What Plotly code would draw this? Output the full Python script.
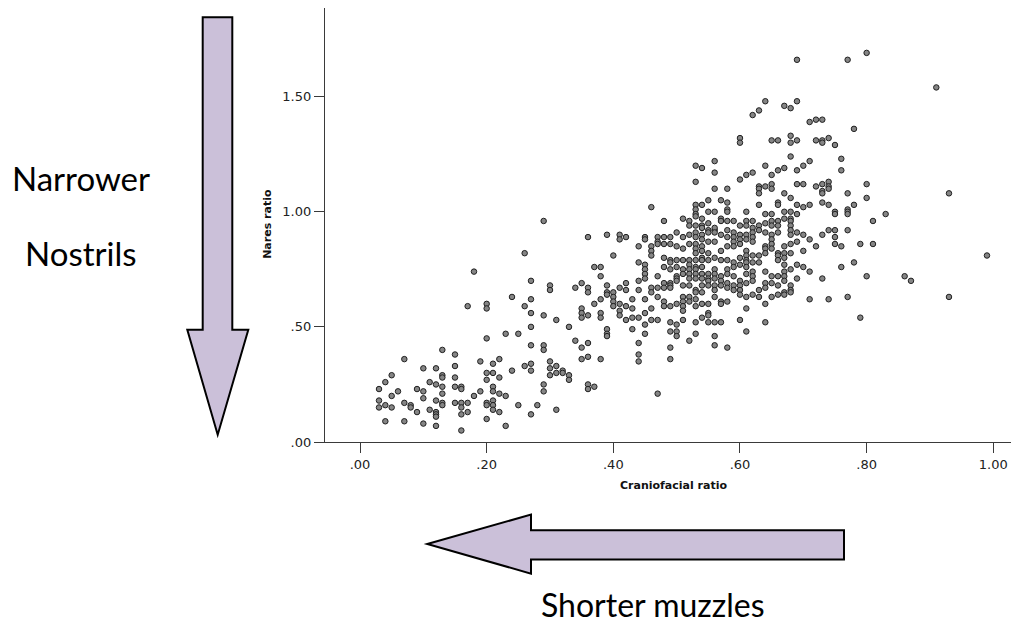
import plotly.graph_objects as go

# ---- data: (craniofacial ratio, nares ratio) ----
low_group = [
    (0.26,0.82),(0.18,0.74),(0.27,0.70),(0.30,0.68),(0.30,0.66),(0.24,0.63),(0.27,0.62),(0.17,0.59),
    (0.20,0.60),(0.20,0.58),(0.26,0.59),(0.27,0.56),(0.29,0.55),(0.31,0.53),(0.27,0.50),(0.20,0.45),
    (0.23,0.47),(0.25,0.47),(0.27,0.42),(0.29,0.42),(0.29,0.40),(0.13,0.40),(0.15,0.38),(0.07,0.36),
    (0.19,0.35),(0.22,0.36),(0.21,0.34),(0.15,0.33),(0.10,0.32),(0.12,0.32),(0.26,0.33),(0.27,0.34),
    (0.27,0.31),(0.30,0.35),(0.30,0.32),(0.31,0.33),(0.31,0.30),(0.30,0.29),(0.24,0.31),(0.20,0.30),
    (0.21,0.30),(0.05,0.29),(0.13,0.29),(0.13,0.28),(0.15,0.28),(0.22,0.28),(0.20,0.27),(0.04,0.26),
    (0.11,0.26),(0.12,0.25),(0.13,0.24),(0.15,0.24),(0.29,0.25),(0.16,0.24),(0.16,0.23),(0.21,0.24),
    (0.03,0.23),(0.09,0.23),(0.10,0.22),(0.06,0.22),(0.21,0.22),(0.19,0.22),(0.29,0.22),(0.13,0.21),
    (0.22,0.21),(0.23,0.20),(0.18,0.20),(0.05,0.20),(0.10,0.19),(0.03,0.18),(0.07,0.17),(0.08,0.16),
    (0.08,0.15),(0.12,0.18),(0.13,0.17),(0.13,0.16),(0.15,0.17),(0.16,0.17),(0.17,0.17),(0.20,0.17),
    (0.20,0.16),(0.21,0.18),(0.21,0.16),(0.03,0.15),(0.04,0.16),(0.05,0.15),(0.25,0.16),(0.28,0.16),
    (0.16,0.15),(0.09,0.13),(0.11,0.14),(0.12,0.13),(0.12,0.12),(0.12,0.11),(0.17,0.13),(0.16,0.12),
    (0.21,0.14),(0.22,0.13),(0.31,0.14),(0.27,0.12),(0.20,0.10),(0.04,0.09),(0.07,0.09),(0.10,0.08),
    (0.12,0.07),(0.23,0.07),(0.16,0.05),(0.32,0.31),(0.32,0.30),(0.33,0.29),(0.33,0.27),(0.36,0.25),
    (0.36,0.23),(0.37,0.24),(0.47,0.21),
]

middle_group = [
    (0.29,0.96),(0.36,0.89),(0.39,0.90),(0.41,0.90),(0.41,0.88),(0.42,0.89),(0.45,0.89),(0.45,0.88),
    (0.47,0.89),(0.47,0.87),(0.47,0.86),(0.44,0.85),(0.46,0.85),(0.46,0.83),(0.46,0.81),(0.40,0.81),
    (0.44,0.78),(0.45,0.77),(0.37,0.76),(0.38,0.76),(0.38,0.72),(0.45,0.75),(0.45,0.73),(0.45,0.71),
    (0.44,0.70),(0.47,0.72),(0.35,0.69),(0.34,0.67),(0.36,0.67),(0.36,0.65),(0.39,0.68),(0.39,0.65),
    (0.39,0.64),(0.40,0.65),(0.40,0.63),(0.41,0.67),(0.42,0.69),(0.42,0.66),(0.44,0.66),(0.46,0.67),
    (0.46,0.65),(0.47,0.67),(0.47,0.63),(0.37,0.60),(0.38,0.62),(0.35,0.58),(0.35,0.56),(0.35,0.54),
    (0.36,0.55),(0.38,0.56),(0.38,0.54),(0.40,0.61),(0.40,0.59),(0.41,0.60),(0.41,0.57),(0.41,0.55),
    (0.42,0.59),(0.43,0.62),(0.43,0.58),(0.43,0.54),(0.44,0.54),(0.42,0.53),(0.45,0.62),(0.45,0.56),
    (0.45,0.51),(0.45,0.47),(0.46,0.58),(0.46,0.53),(0.33,0.50),(0.39,0.49),(0.39,0.47),(0.39,0.46),
    (0.43,0.49),(0.47,0.53),(0.34,0.44),(0.35,0.41),(0.36,0.43),(0.35,0.36),(0.36,0.37),(0.38,0.36),
    (0.44,0.43),(0.44,0.38),(0.44,0.35),(0.46,1.02),(0.48,0.96),
]

core_group = [
    (0.53,1.20),(0.53,1.13),(0.56,1.10),(0.58,1.10),(0.53,1.03),(0.54,1.03),(0.53,1.01),(0.55,1.05),
    (0.57,1.05),(0.58,1.04),(0.55,1.00),(0.56,1.00),(0.58,1.01),(0.58,1.00),(0.51,0.97),(0.52,0.96),
    (0.52,0.94),(0.53,0.99),(0.53,0.98),(0.53,0.94),(0.54,0.97),(0.54,0.94),(0.54,0.93),(0.55,0.95),
    (0.55,0.92),(0.56,0.92),(0.56,0.93),(0.57,0.97),(0.57,0.96),(0.58,0.96),(0.59,0.96),(0.58,0.92),
    (0.48,0.89),(0.49,0.89),(0.50,0.91),(0.51,0.89),(0.52,0.90),(0.53,0.91),(0.53,0.89),(0.54,0.90),
    (0.54,0.88),(0.55,0.91),(0.56,0.91),(0.57,0.90),(0.58,0.89),(0.59,0.91),(0.59,0.89),(0.59,0.87),
    (0.48,0.86),(0.49,0.86),(0.50,0.85),(0.51,0.84),(0.52,0.86),(0.53,0.86),(0.53,0.84),(0.53,0.82),
    (0.54,0.85),(0.54,0.83),(0.55,0.87),(0.55,0.82),(0.56,0.87),(0.57,0.83),(0.58,0.85),(0.59,0.85),
    (0.48,0.80),(0.49,0.79),(0.49,0.78),(0.50,0.79),(0.50,0.76),(0.51,0.79),(0.52,0.79),(0.52,0.77),
    (0.53,0.79),(0.53,0.76),(0.54,0.80),(0.54,0.79),(0.55,0.79),(0.56,0.80),(0.57,0.79),(0.58,0.79),
    (0.59,0.78),(0.48,0.76),(0.49,0.75),(0.50,0.72),(0.50,0.71),(0.50,0.70),(0.51,0.75),(0.51,0.73),
    (0.52,0.75),(0.52,0.73),(0.52,0.71),(0.53,0.75),(0.53,0.73),(0.53,0.71),(0.54,0.76),(0.54,0.73),
    (0.54,0.71),(0.55,0.73),(0.55,0.71),(0.55,0.70),(0.56,0.75),(0.56,0.73),(0.56,0.71),(0.57,0.72),
    (0.57,0.70),(0.58,0.75),(0.58,0.73),(0.59,0.76),(0.59,0.72),(0.48,0.69),(0.48,0.67),(0.49,0.69),
    (0.49,0.68),(0.49,0.67),(0.51,0.68),(0.52,0.68),(0.53,0.66),(0.53,0.65),(0.54,0.68),(0.54,0.65),
    (0.55,0.68),(0.56,0.68),(0.56,0.66),(0.57,0.68),(0.58,0.69),(0.58,0.67),(0.59,0.68),(0.59,0.66),
    (0.48,0.61),(0.48,0.59),(0.49,0.59),(0.50,0.60),(0.51,0.63),(0.51,0.61),(0.51,0.59),(0.51,0.57),
    (0.51,0.53),(0.52,0.63),(0.52,0.61),(0.53,0.62),(0.53,0.59),(0.54,0.60),(0.55,0.60),(0.56,0.63),
    (0.57,0.61),(0.57,0.60),(0.58,0.61),(0.49,0.52),(0.49,0.48),(0.50,0.51),(0.50,0.48),(0.50,0.46),
    (0.53,0.52),(0.53,0.47),(0.54,0.54),(0.55,0.56),(0.55,0.55),(0.55,0.52),(0.56,0.52),(0.56,0.46),
    (0.56,0.42),(0.57,0.52),(0.58,0.41),(0.49,0.41),(0.49,0.36),(0.52,0.44),
]

upper_group = [
    (0.69,1.66),(0.77,1.66),(0.80,1.69),(0.64,1.48),(0.63,1.44),(0.62,1.42),(0.67,1.46),(0.68,1.45),
    (0.69,1.48),(0.71,1.39),(0.72,1.40),(0.73,1.40),(0.78,1.36),(0.60,1.32),(0.60,1.30),(0.65,1.31),
    (0.66,1.31),(0.68,1.33),(0.68,1.30),(0.69,1.31),(0.72,1.31),(0.73,1.31),(0.73,1.30),(0.74,1.32),
    (0.75,1.29),(0.68,1.24),(0.76,1.23),(0.76,1.18),(0.56,1.22),(0.54,1.19),(0.56,1.17),(0.64,1.20),
    (0.61,1.16),(0.62,1.17),(0.60,1.14),(0.65,1.16),(0.66,1.18),(0.67,1.19),(0.69,1.18),(0.70,1.20),
    (0.71,1.22),(0.63,1.11),(0.63,1.10),(0.63,1.08),(0.64,1.11),(0.65,1.12),(0.65,1.10),(0.67,1.08),
    (0.68,1.06),(0.69,1.12),(0.70,1.12),(0.72,1.11),(0.73,1.12),(0.74,1.13),(0.73,1.09),(0.73,1.08),
    (0.74,1.11),(0.74,1.10),(0.80,1.12),(0.80,1.06),(0.77,1.08),(0.78,1.03),(0.63,1.03),(0.66,1.04),
    (0.66,1.03),(0.69,1.03),(0.70,1.02),(0.71,1.03),(0.73,1.04),(0.74,1.03),(0.75,1.00),(0.75,0.99),
    (0.77,1.01),(0.77,1.00),(0.77,0.99),(0.83,0.99),(0.81,0.96),(0.61,1.00),(0.64,0.99),(0.65,0.99),
    (0.67,1.00),(0.67,0.97),(0.68,1.00),(0.68,0.97),(0.69,0.99),
]

right_group = [
    (0.60,0.94),(0.60,0.90),(0.60,0.88),(0.60,0.86),(0.60,0.80),(0.60,0.77),(0.60,0.70),(0.60,0.68),
    (0.60,0.66),(0.60,0.64),(0.60,0.53),(0.61,0.96),(0.61,0.94),(0.61,0.90),(0.61,0.88),(0.61,0.83),
    (0.61,0.81),(0.61,0.79),(0.61,0.78),(0.61,0.76),(0.61,0.73),(0.61,0.69),(0.61,0.63),(0.61,0.58),
    (0.61,0.48),(0.62,0.96),(0.62,0.93),(0.62,0.91),(0.62,0.89),(0.62,0.87),(0.62,0.81),(0.62,0.78),
    (0.62,0.74),(0.62,0.72),(0.62,0.70),(0.62,0.64),(0.63,0.94),(0.63,0.92),(0.63,0.81),(0.63,0.78),
    (0.63,0.66),(0.63,0.63),(0.64,0.95),(0.64,0.91),(0.64,0.85),(0.64,0.84),(0.64,0.82),(0.64,0.74),
    (0.64,0.69),(0.64,0.67),(0.64,0.60),(0.64,0.52),(0.65,0.96),(0.65,0.94),(0.65,0.90),(0.65,0.88),
    (0.65,0.86),(0.65,0.84),(0.65,0.72),(0.65,0.69),(0.65,0.63),(0.66,0.96),(0.66,0.94),(0.66,0.91),
    (0.66,0.82),(0.66,0.81),(0.66,0.79),(0.66,0.72),(0.66,0.68),(0.66,0.64),(0.67,0.85),(0.67,0.82),
    (0.67,0.80),(0.67,0.77),(0.67,0.74),(0.67,0.72),(0.67,0.70),(0.67,0.65),(0.67,0.64),(0.68,0.96),
    (0.68,0.94),(0.68,0.92),(0.68,0.90),(0.68,0.86),(0.68,0.82),(0.68,0.75),(0.68,0.68),(0.68,0.66),
    (0.68,0.65),(0.69,0.91),(0.69,0.87),(0.69,0.77),(0.69,0.71),(0.70,0.90),(0.70,0.83),(0.70,0.76),
    (0.71,0.88),(0.71,0.74),(0.71,0.62),(0.72,0.85),(0.73,0.90),(0.73,0.71),(0.74,0.92),(0.74,0.62),
    (0.75,0.92),(0.75,0.89),(0.75,0.86),(0.76,0.85),(0.76,0.76),(0.77,0.92),(0.77,0.63),(0.78,0.78),
    (0.79,0.86),(0.79,0.54),(0.80,0.72),(0.81,0.86),
]

outliers = [
    (0.91,1.54),(0.93,1.08),(0.86,0.72),(0.87,0.70),(0.99,0.81),(0.93,0.63),
]

groups = [low_group, middle_group, core_group, upper_group, right_group, outliers]
craniofacial = [p[0] for g in groups for p in g]
nares = [p[1] for g in groups for p in g]

x_tick_vals = [0.0, 0.2, 0.4, 0.6, 0.8, 1.0]
x_tick_text = [".00", ".20", ".40", ".60", ".80", "1.00"]
y_tick_vals = [0.0, 0.5, 1.0, 1.5]
y_tick_text = [".00", ".50", "1.00", "1.50"]

# ---- layout geometry (pixels of the reference; page body adds an 8px margin) ----
OFF = 8
W, H = 1019 - OFF, 626 - OFF
L, R, T = 325 - OFF, 1, 0
AXIS_Y = 442.3 - OFF
B = H - AXIS_Y
PW, PH = W - L - R, H - T - B
X_SCALE = 633.3   # px per unit
Y_SCALE = 230.4   # px per unit
ZERO_X = 360 - OFF


def px(xp):
    return (xp - OFF - L) / PW


def py(yp):
    return (AXIS_Y - (yp - OFF)) / PH


def path(points):
    return "M " + " L ".join(f"{px(a):.5f},{py(b):.5f}" for a, b in points) + " Z"


down_arrow = [(202.7, 17.3), (232.3, 17.3), (232.3, 330), (248.3, 330), (217.7, 435),
              (187.3, 330), (202.7, 330)]
left_arrow = [(427.3, 544.3), (531, 515), (531, 530.7), (844, 530.7), (844, 560),
              (531, 560), (531, 574)]

fig = go.Figure()
fig.add_trace(go.Scatter(
    x=craniofacial, y=nares, mode="markers",
    marker=dict(size=5.5, color="#858585", line=dict(color="#202020", width=1)),
    hoverinfo="x+y", showlegend=False,
))

arrow_fill = "#CBC0D9"
shapes = []
for pts in (down_arrow, left_arrow):
    shapes.append(dict(type="path", xref="paper", yref="paper", path=path(pts),
                       fillcolor=arrow_fill, line=dict(color="black", width=2), layer="above"))

axis_font = dict(family="DejaVu Sans", size=13, color="#222")
annotations = [
    dict(text="<b>Craniofacial ratio</b>", xref="paper", yref="paper", x=px(673), y=py(486),
         showarrow=False, font=dict(family="DejaVu Sans", size=11, color="#111"),
         xanchor="center", yanchor="middle"),
    dict(text="<b>Nares ratio</b>", xref="paper", yref="paper", x=px(268), y=py(224),
         showarrow=False, textangle=-90, font=dict(family="DejaVu Sans", size=11, color="#111"),
         xanchor="center", yanchor="middle"),
    dict(text="Narrower", xref="paper", yref="paper", x=px(81), y=py(178),
         showarrow=False, font=dict(family="Lato", size=33, color="black"),
         xanchor="center", yanchor="middle"),
    dict(text="Nostrils", xref="paper", yref="paper", x=px(81), y=py(253),
         showarrow=False, font=dict(family="Lato", size=33, color="black"),
         xanchor="center", yanchor="middle"),
    dict(text="Shorter muzzles", xref="paper", yref="paper", x=px(653), y=py(605),
         showarrow=False, font=dict(family="Lato", size=32, color="black"),
         xanchor="center", yanchor="middle"),
]

x_lo = (L - ZERO_X) / X_SCALE
x_hi = (W - R - ZERO_X) / X_SCALE
y_hi = PH / Y_SCALE

fig.update_layout(
    width=W, height=H,
    margin=dict(l=L, r=R, t=T, b=B, pad=0),
    paper_bgcolor="white", plot_bgcolor="white",
    shapes=shapes, annotations=annotations,
    xaxis=dict(range=[x_lo, x_hi], tickvals=x_tick_vals, ticktext=x_tick_text,
               showgrid=False, zeroline=False, showline=True, linecolor="#3a3a3a", linewidth=1.3,
               ticks="outside", ticklen=10, tickwidth=1.3, tickcolor="#3a3a3a", tickfont=axis_font),
    yaxis=dict(range=[0, y_hi], tickvals=y_tick_vals, ticktext=y_tick_text,
               showgrid=False, zeroline=False, showline=True, linecolor="#3a3a3a", linewidth=1.3,
               ticks="outside", ticklen=10, tickwidth=1.3, tickcolor="#3a3a3a", tickfont=axis_font),
)

fig.write_html("out.html")
